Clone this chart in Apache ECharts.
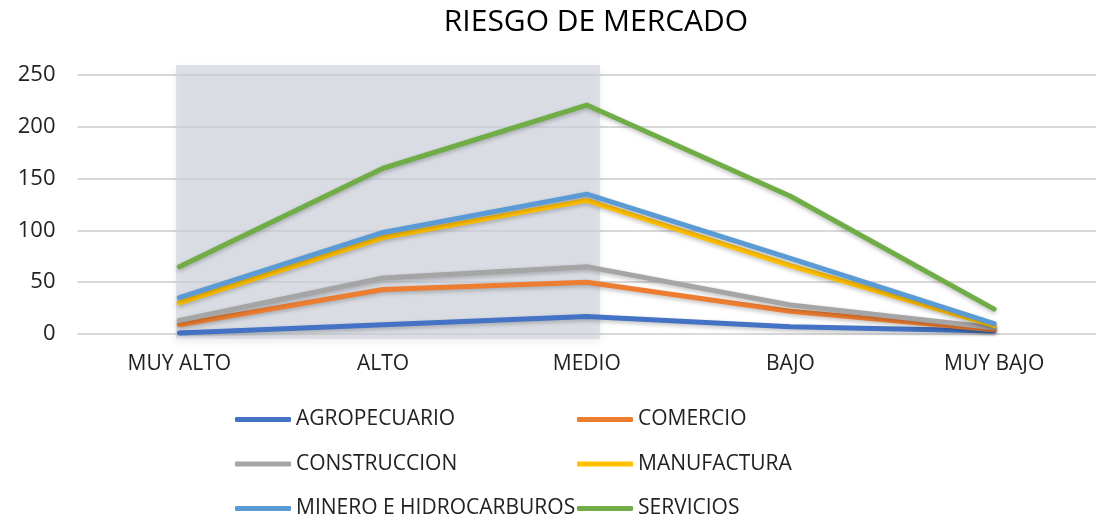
<!DOCTYPE html>
<html>
<head>
<meta charset="utf-8">
<style>
  html, body { margin: 0; padding: 0; background: #fff; }
  #chart { width: 1096px; height: 520px; }
</style>
<script src="https://cdn.jsdelivr.net/npm/echarts@6/dist/echarts.min.js"></script>
</head>
<body>
<div id="chart"></div>
<script>
// categorias del eje x
const categorias = ['MUY ALTO', 'ALTO', 'MEDIO', 'BAJO', 'MUY BAJO'];

// valores por sector
const agropecuario = [1, 9, 17, 7, 3];
const comercio = [9, 43, 50, 22, 4];
const construccion = [13, 54, 65, 28, 6];
const manufactura = [30, 93, 129, 66, 8];
const minero = [35, 98, 135, 73, 10];
const servicios = [65, 160, 221, 133, 24];

const sectores = ['AGROPECUARIO', 'COMERCIO', 'CONSTRUCCION', 'MANUFACTURA', 'MINERO E HIDROCARBUROS', 'SERVICIOS'];
const colores = ['#4472C4', '#ED7D31', '#A5A5A5', '#FFC000', '#5B9BD5', '#70AD47'];
const fuente = '"Open Sans", "Liberation Sans", sans-serif';

let chart = echarts.init(document.getElementById('chart'));

function serie(nombre, datos, color) {
    return {
        name: nombre,
        type: 'line',
        data: datos,
        showSymbol: false,
        symbol: 'none',
        color: color,
        lineStyle: {
            width: 5,
            color: color,
            cap: 'round',
            join: 'round',
            shadowBlur: 4,
            shadowColor: 'rgba(0,0,0,0.25)',
            shadowOffsetY: 2
        }
    };
}

// leyenda en dos columnas, una entrada por bloque
let leyendas = sectores.map(function (nombre, i) {
    return {
        left: i % 2 === 0 ? 235 : 577,
        top: 409 + Math.floor(i / 2) * 44.5,
        padding: 0,
        itemWidth: 56,
        itemHeight: 5,
        icon: 'roundRect',
        data: [nombre],
        textStyle: { fontFamily: fuente, fontSize: 21, lineHeight: 21, color: '#222' }
    };
});

chart.setOption({
    animation: false,
    title: {
        text: 'RIESGO DE MERCADO',
        left: 591,
        textAlign: 'center',
        top: 2,
        textStyle: { fontFamily: fuente, fontWeight: 'normal', fontSize: 30, color: '#000' }
    },
    legend: leyendas,
    grid: { left: 77.5, top: 75, width: 1035, height: 259 },
    xAxis: {
        type: 'category',
        data: categorias,
        boundaryGap: true,
        axisLine: { show: false },
        axisTick: { show: false },
        axisLabel: { fontFamily: fuente, fontSize: 21, color: '#222', margin: 20 }
    },
    yAxis: {
        type: 'value',
        min: 0,
        max: 250,
        interval: 50,
        axisLine: { show: false },
        axisTick: { show: false },
        axisLabel: { fontFamily: fuente, fontSize: 22, color: '#222', margin: 22 },
        splitLine: { lineStyle: { color: '#d9d9d9', width: 2 } }
    },
    // recuadro sombreado detras de MUY ALTO - MEDIO
    graphic: [{
        type: 'rect',
        z: 1,
        shape: { x: 176, y: 65, width: 424, height: 274 },
        style: {
            fill: 'rgba(208,213,222,0.65)',
            shadowBlur: 8,
            shadowColor: 'rgba(0,0,0,0.12)',
            shadowOffsetY: 3
        }
    }],
    series: [
        serie(sectores[0], agropecuario, colores[0]),
        serie(sectores[1], comercio, colores[1]),
        serie(sectores[2], construccion, colores[2]),
        serie(sectores[3], manufactura, colores[3]),
        serie(sectores[4], minero, colores[4]),
        serie(sectores[5], servicios, colores[5])
    ]
});
</script>
</body>
</html>
